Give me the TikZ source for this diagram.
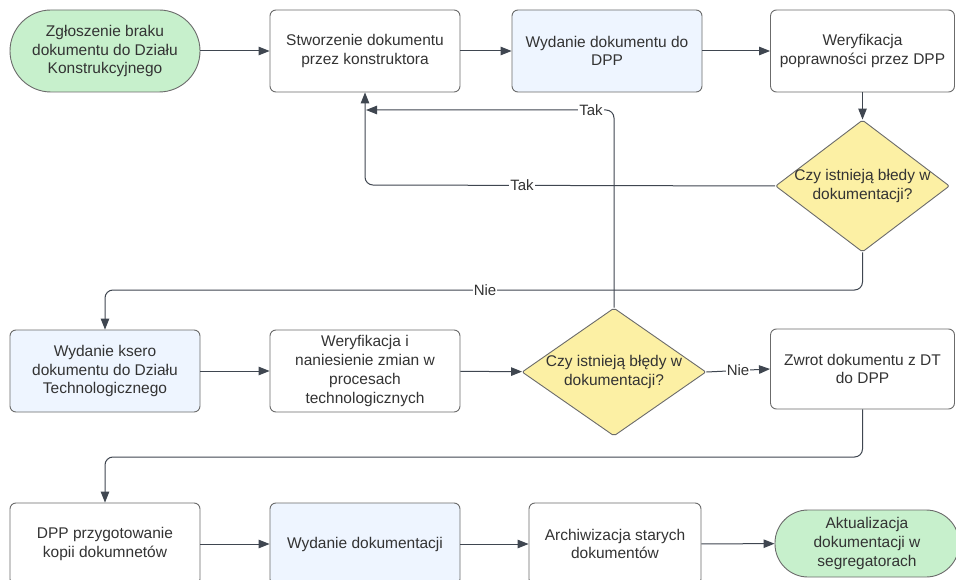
\documentclass[tikz,border=0pt]{standalone}
\usepackage{fontspec}
\setmainfont{Liberation Sans}
\usetikzlibrary{shapes.geometric,arrows.meta}
\definecolor{gfill}{HTML}{C7F0CC}
\definecolor{bfill}{HTML}{EEF5FF}
\definecolor{yfill}{HTML}{FCF0A4}
\definecolor{bord}{HTML}{6B6B6B}
\definecolor{conn}{HTML}{3F4650}
\definecolor{txt}{HTML}{333333}
\begin{document}
\begin{tikzpicture}[x=1pt,y=-1pt,
  every node/.style={font=\fontsize{15.5}{18.7}\selectfont, text=txt},
  box/.style={draw=bord, line width=0.9pt, rounded corners=6pt, minimum width=190pt, minimum height=82pt, align=center, inner sep=0pt, fill=white},
  term/.style={box, fill=gfill},
  bbox/.style={box, fill=bfill},
  dia/.style={draw=bord, line width=0.9pt, diamond, fill=yfill, inner sep=0pt, rounded corners=2pt},
  arr/.style={draw=conn, line width=1pt, rounded corners=8pt, -{Triangle[length=11pt,width=8.5pt]}},
  lbl/.style={fill=white, inner sep=1pt, font=\fontsize{15}{17}\selectfont}
]
\clip (0,0) rectangle (956,580);
\fill[white] (0,0) rectangle (956,580);

% top row
\node[term, rounded corners=41pt] (start) at (105,51) {Zgłoszenie braku\\dokumentu do Działu\\Konstrukcyjnego};
\node[box] (s1) at (365,51) {Stworzenie dokumentu\\przez konstruktora};
\node[bbox] (s2) at (607,51) {Wydanie dokumentu do\\DPP};
\node[box, minimum width=184pt] (s3) at (862.5,51) {Weryfikacja\\poprawności przez DPP};
\node[dia, minimum width=174pt, minimum height=132pt,
  label={[align=center, font=\fontsize{15.5}{18.7}\selectfont]center:Czy istnieją błedy w\\dokumentacji?}] (d1) at (862.5,186) {};

% middle row
\node[bbox] (m1) at (105,371) {Wydanie ksero\\dokumentu do Działu\\Technologicznego};
\node[box] (m2) at (365,371) {Weryfikacja i\\naniesienie zmian w\\procesach\\technologicznych};
\node[dia, minimum width=184pt, minimum height=128pt,
  label={[align=center, font=\fontsize{15.5}{18.7}\selectfont]center:Czy istnieją błędy w\\dokumentacji?}] (d2) at (614,372) {};
\node[box, minimum width=184pt, minimum height=80pt] (z) at (862.5,369) {Zwrot dokumentu z DT\\do DPP};

% bottom row
\node[box] (b1) at (105,544) {DPP przygotowanie\\kopii dokumnetów};
\node[bbox] (b2) at (365,544) {Wydanie dokumentacji};
\node[box, minimum width=172pt] (b3) at (615,544) {Archiwizacja starych\\dokumentów};
\node[term, minimum width=184pt, minimum height=67pt, rounded corners=33pt] (end) at (867,543.5) {Aktualizacja\\dokumentacji w\\segregatorach};

% connectors
\draw[arr] (start) -- (s1);
\draw[arr] (s1) -- (s2);
\draw[arr] (s2) -- (s3);
\draw[arr] (s3) -- (d1);
\draw[arr] (d1.west) -- (365,185) -- (s1.south);
\node[lbl] (tak1) at (522,185) {Tak};
\coordinate (takend) at (366,110);
\draw[arr] (d2.north) -- (614,110) -- (takend);
\node[lbl] (tak2) at (591,110) {Tak};
\draw[arr] (d1.south) -- (862.5,290) -- (105,290) -- (m1.north);
\node[lbl] (nie1) at (485,290) {Nie};
\draw[arr] (m1) -- (m2);
\draw[arr] (m2) -- (d2);
\draw[arr] (d2.east) -- (z.west);
\node[lbl] (nie2) at (738,370) {Nie};
\draw[arr] (z.south) -- (862.5,457) -- (105,457) -- (b1.north);
\draw[arr] (b1) -- (b2);
\draw[arr] (b2) -- (b3);
\draw[arr] (b3) -- (end);
\end{tikzpicture}
\end{document}
